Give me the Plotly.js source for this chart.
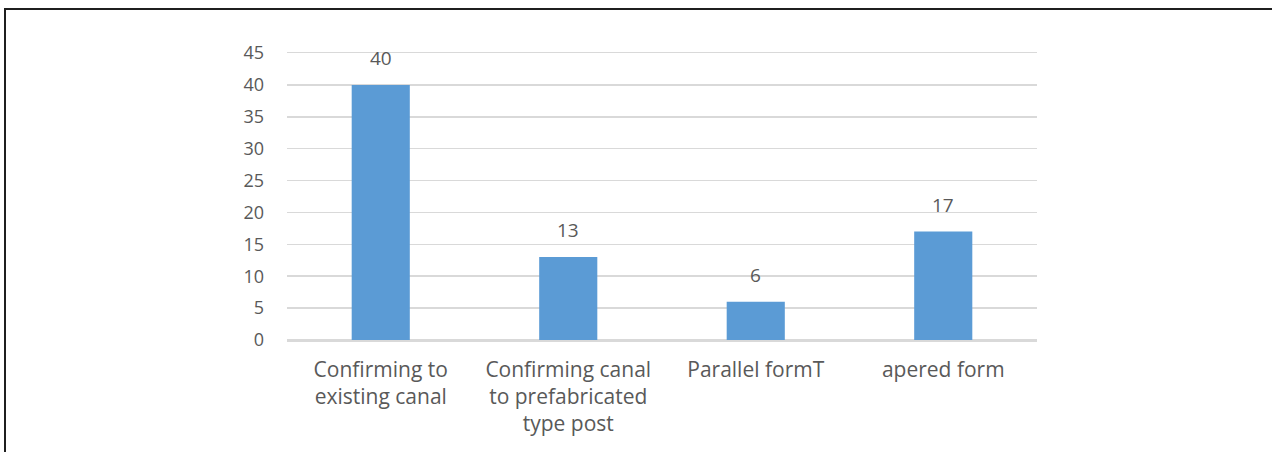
<!DOCTYPE html>
<html>
<head>
<meta charset="utf-8">
<script src="https://cdn.plot.ly/plotly-3.0.1.min.js"></script>
<style>
  html, body { margin: 0; padding: 0; background: #fff; }
  #wrap { position: relative; width: 1272px; height: 452px; overflow: hidden; }
  #chart { position: absolute; left: 0; top: 0; width: 1272px; height: 452px; }
  #frame { position: absolute; left: 4px; top: 8px; right: -10px; bottom: -10px;
           border-top: 2px solid #1f1f1f; border-left: 2px solid #1f1f1f; pointer-events: none; }
</style>
</head>
<body>
<div id="wrap">
  <div id="chart"></div>
  <div id="frame"></div>
</div>
<script>
const categories = [
  "Confirming to<br>existing canal",
  "Confirming canal<br>to prefabricated<br>type post",
  "Parallel formT",
  "apered form"
];
const values = [40, 13, 6, 17];
const yTicks = [0, 5, 10, 15, 20, 25, 30, 35, 40, 45];

const fontFam = "Open Sans, Noto Sans, sans-serif";
const txtColor = "#595959";

const trace = {
  type: "bar",
  x: categories,
  y: values,
  marker: { color: "#5B9BD5" },
  hoverinfo: "none"
};

const annotations = categories.map((c, i) => ({
  x: c, y: values[i], xref: "x", yref: "y",
  text: String(values[i]), showarrow: false,
  yanchor: "bottom", yshift: 12,
  font: { family: fontFam, size: 19, color: txtColor }
}));

const layout = {
  width: 1272, height: 452,
  margin: { l: 287, r: 235, t: 53, b: 112 },
  paper_bgcolor: "#ffffff",
  plot_bgcolor: "#ffffff",
  bargap: 0.69,
  showlegend: false,
  font: { family: fontFam, size: 17, color: txtColor },
  xaxis: {
    type: "category",
    showgrid: false,
    zeroline: false,
    showline: true,
    mirror: true,
    linecolor: "#d9d9d9",
    linewidth: 1.5,
    ticks: "",
    ticklabelstandoff: 10,
    tickfont: { family: fontFam, size: 21, color: txtColor },
    fixedrange: true
  },
  yaxis: {
    range: [0, 45],
    tickvals: yTicks,
    ticktext: yTicks.map(String),
    showgrid: true,
    gridcolor: "#d9d9d9",
    gridwidth: 1.5,
    zeroline: true,
    zerolinecolor: "#d9d9d9",
    zerolinewidth: 1.5,
    showline: false,
    ticks: "",
    ticklabelstandoff: 22,
    tickfont: { family: fontFam, size: 18, color: txtColor },
    fixedrange: true
  },
  annotations: annotations
};

Plotly.newPlot("chart", [trace], layout, { displayModeBar: false, staticPlot: true });
</script>
</body>
</html>
